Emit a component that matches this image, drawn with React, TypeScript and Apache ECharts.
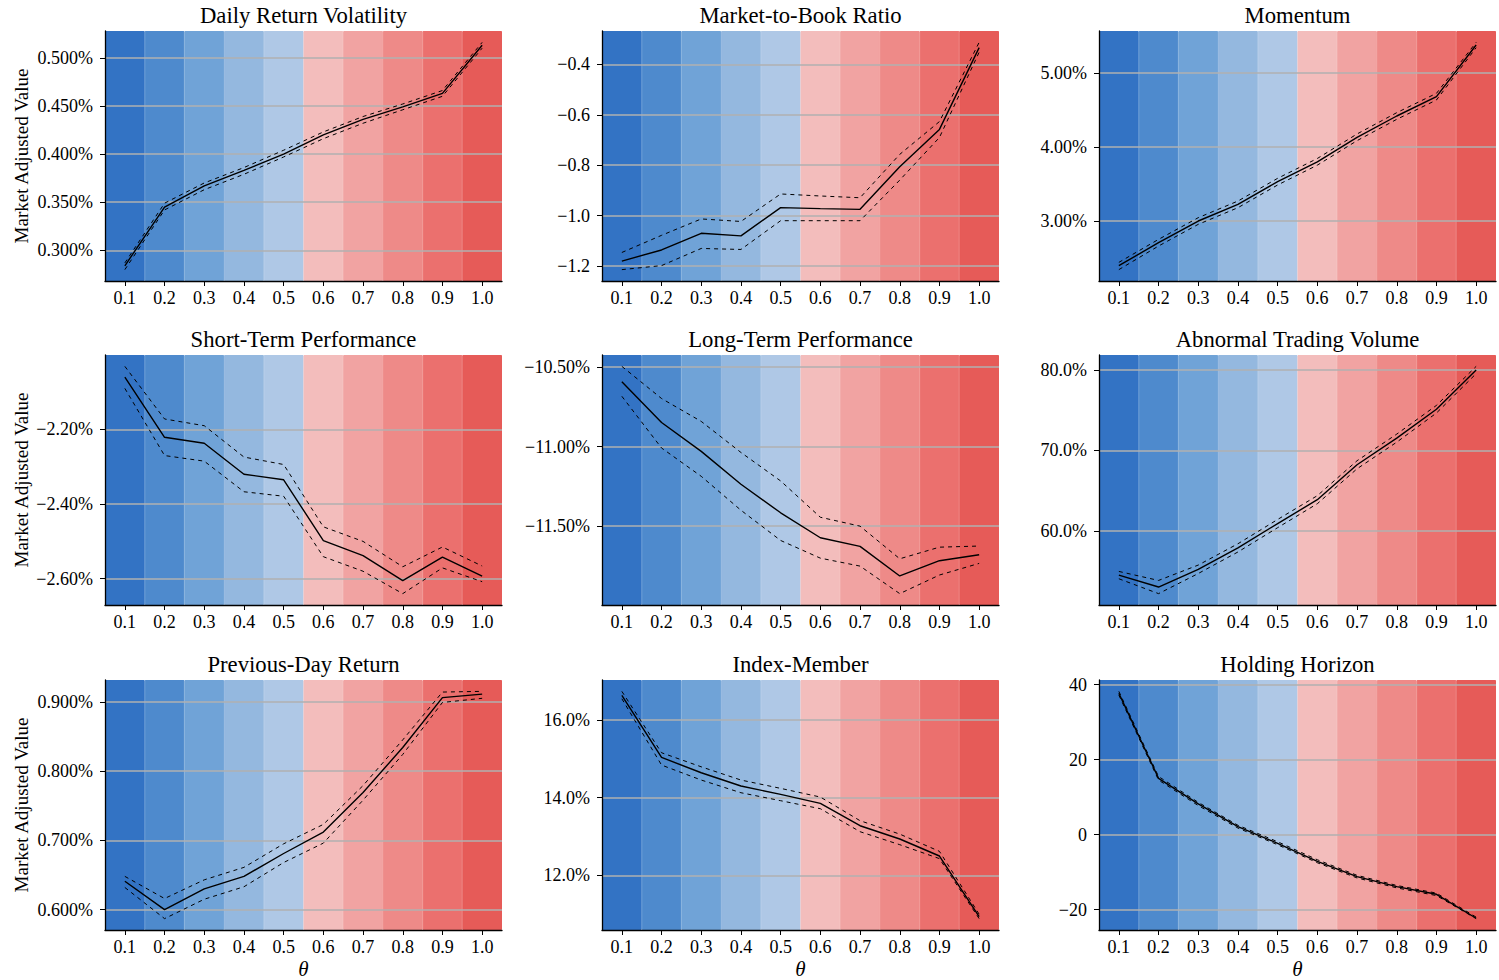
import React, { useEffect, useRef } from "react";
import * as echarts from "echarts";

// ---------- data ----------
const thetas = ["0.1", "0.2", "0.3", "0.4", "0.5", "0.6", "0.7", "0.8", "0.9", "1.0"];
const bandColors = ["#3373c4", "#4e8acd", "#70a3d7", "#94b8df", "#afc8e6", "#f3bdbc", "#f1a3a2", "#ee8a88", "#eb706e", "#e65b58"];

const titles = [
  "Daily Return Volatility", "Market-to-Book Ratio", "Momentum",
  "Short-Term Performance", "Long-Term Performance", "Abnormal Trading Volume",
  "Previous-Day Return", "Index-Member", "Holding Horizon",
];

const volMid = [0.284, 0.345, 0.367, 0.383, 0.400, 0.420, 0.436, 0.449, 0.463, 0.513];
const volUp = [0.287, 0.349, 0.370, 0.386, 0.404, 0.423, 0.439, 0.452, 0.466, 0.516];
const volLo = [0.280, 0.342, 0.363, 0.379, 0.397, 0.416, 0.432, 0.446, 0.460, 0.510];
const volTicks = [0.30, 0.35, 0.40, 0.45, 0.50];

const mtbMid = [-1.180, -1.136, -1.070, -1.080, -0.968, -0.972, -0.975, -0.806, -0.658, -0.334];
const mtbUp = [-1.146, -1.078, -1.013, -1.023, -0.914, -0.922, -0.929, -0.757, -0.627, -0.313];
const mtbLo = [-1.214, -1.198, -1.130, -1.134, -1.020, -1.020, -1.020, -0.859, -0.690, -0.352];
const mtbTicks = [-1.2, -1.0, -0.8, -0.6, -0.4];

const momMid = [2.396, 2.707, 3.000, 3.225, 3.532, 3.800, 4.131, 4.419, 4.680, 5.378];
const momUp = [2.441, 2.752, 3.045, 3.270, 3.577, 3.845, 4.176, 4.464, 4.725, 5.414];
const momLo = [2.343, 2.662, 2.955, 3.180, 3.487, 3.755, 4.086, 4.374, 4.635, 5.342];
const momTicks = [3, 4, 5];

const stpMid = [-2.060, -2.221, -2.237, -2.320, -2.335, -2.498, -2.538, -2.605, -2.542, -2.593];
const stpUp = [-2.031, -2.172, -2.190, -2.274, -2.294, -2.461, -2.500, -2.568, -2.515, -2.566];
const stpLo = [-2.090, -2.270, -2.285, -2.367, -2.379, -2.541, -2.580, -2.640, -2.571, -2.608];
const stpTicks = [-2.6, -2.4, -2.2];

const ltpMid = [-10.592, -10.849, -11.030, -11.237, -11.416, -11.573, -11.627, -11.813, -11.717, -11.680];
const ltpUp = [-10.496, -10.698, -10.842, -11.037, -11.216, -11.444, -11.500, -11.705, -11.632, -11.625];
const ltpLo = [-10.684, -11.009, -11.187, -11.400, -11.590, -11.701, -11.751, -11.924, -11.807, -11.734];
const ltpTicks = [-11.5, -11.0, -10.5];

const atvMid = [54.50, 53.02, 55.21, 57.89, 60.91, 63.88, 68.22, 71.53, 75.12, 80.00];
const atvUp = [54.96, 53.84, 55.75, 58.40, 61.42, 64.38, 68.72, 72.03, 75.60, 80.45];
const atvLo = [54.05, 52.20, 54.70, 57.38, 60.40, 63.38, 67.72, 71.03, 74.65, 79.55];
const atvTicks = [60, 70, 80];

const pdrMid = [0.641, 0.600, 0.630, 0.648, 0.681, 0.712, 0.769, 0.834, 0.906, 0.911];
const pdrUp = [0.648, 0.616, 0.643, 0.661, 0.695, 0.723, 0.779, 0.845, 0.914, 0.915];
const pdrLo = [0.632, 0.587, 0.615, 0.633, 0.668, 0.696, 0.758, 0.824, 0.899, 0.905];
const pdrTicks = [0.6, 0.7, 0.8, 0.9];

const idxMid = [16.625, 15.032, 14.638, 14.296, 14.081, 13.850, 13.276, 12.934, 12.497, 10.938];
const idxUp = [16.730, 15.152, 14.790, 14.450, 14.236, 14.013, 13.405, 13.060, 12.617, 11.000];
const idxLo = [16.540, 14.835, 14.450, 14.124, 13.919, 13.713, 13.122, 12.788, 12.430, 10.887];
const idxTicks = [12, 14, 16];

const hhMid = [37.69, 15.02, 8.18, 2.13, -2.31, -7.11, -11.20, -13.87, -15.91, -22.30];
const hhUp = [38.20, 15.50, 8.60, 2.50, -1.90, -6.70, -10.85, -13.55, -15.60, -22.00];
const hhLo = [37.20, 14.55, 7.75, 1.75, -2.70, -7.50, -11.55, -14.20, -16.25, -22.40];
const hhTicks = [-20, 0, 20, 40];

// tick label formats: [decimals, percent]
const tickDecimals = [3, 1, 2, 2, 2, 1, 3, 1, 0];
const tickPercent = [true, false, true, true, true, true, true, true, false];

const panels = [
  { mid: volMid, up: volUp, lo: volLo, ticks: volTicks },
  { mid: mtbMid, up: mtbUp, lo: mtbLo, ticks: mtbTicks },
  { mid: momMid, up: momUp, lo: momLo, ticks: momTicks },
  { mid: stpMid, up: stpUp, lo: stpLo, ticks: stpTicks },
  { mid: ltpMid, up: ltpUp, lo: ltpLo, ticks: ltpTicks },
  { mid: atvMid, up: atvUp, lo: atvLo, ticks: atvTicks },
  { mid: pdrMid, up: pdrUp, lo: pdrLo, ticks: pdrTicks },
  { mid: idxMid, up: idxUp, lo: idxLo, ticks: idxTicks },
  { mid: hhMid, up: hhUp, lo: hhLo, ticks: hhTicks },
];

// ---------- layout ----------
const FONT = '"Liberation Serif", "Times New Roman", Times, serif';
const COL_LEFT = [105, 602, 1099];
const ROW_TOP = [31, 355, 680];
const W = 397;
const H = 250;
const TITLE_Y = [15, 339, 664];

export default function App() {
  const ref = useRef<HTMLDivElement>(null);

  useEffect(() => {
    const chart = echarts.init(ref.current!, null, { renderer: "svg" });
    const grid: any[] = [];
    const xAxis: any[] = [];
    const yAxis: any[] = [];
    const series: any[] = [];
    const graphic: any[] = [];

    panels.forEach((p, i) => {
      const col = i % 3;
      const row = Math.floor(i / 3);
      grid.push({ left: COL_LEFT[col], top: ROW_TOP[row], width: W, height: H });

      const all = [...p.mid, ...p.up, ...p.lo];
      const lo = Math.min(...all);
      const hi = Math.max(...all);
      const pad = (hi - lo) * 0.05;
      const dec = tickDecimals[i];
      const pct = tickPercent[i];

      xAxis.push({
        type: "category",
        gridIndex: i,
        data: thetas,
        boundaryGap: true,
        axisLine: { show: true, onZero: false, lineStyle: { color: "#000", width: 1.3 } },
        axisTick: { show: true, alignWithLabel: true, length: 5, lineStyle: { color: "#000", width: 1 } },
        axisLabel: { color: "#000", fontFamily: FONT, fontSize: 18, margin: 8, interval: 0 },
        splitLine: { show: false },
        name: row === 2 ? "θ" : "",
        nameLocation: "middle",
        nameGap: 28,
        nameTextStyle: { color: "#000", fontFamily: FONT, fontSize: 21, fontStyle: "italic" },
        z: 3,
      });

      yAxis.push({
        type: "value",
        gridIndex: i,
        min: lo - pad,
        max: hi + pad,
        z: 3,
        axisLine: { show: true, onZero: false, lineStyle: { color: "#000", width: 1.3 } },
        axisTick: { show: true, length: 5, customValues: p.ticks, lineStyle: { color: "#000", width: 1 } },
        axisLabel: {
          customValues: p.ticks,
          color: "#000",
          fontFamily: FONT,
          fontSize: 18,
          margin: 12,
          formatter: (v: number) => (v.toFixed(dec) + (pct ? "%" : "")).replace("-", "\u2212"),
        },
        splitLine: { show: true, lineStyle: { color: "#b0b0b0", width: 1.5 } },
        name: col === 0 ? "Market Adjusted Value" : "",
        nameLocation: "middle",
        nameRotate: 90,
        nameGap: 74,
        nameTextStyle: { color: "#000", fontFamily: FONT, fontSize: 19 },
      });

      series.push(
        {
          type: "line",
          xAxisIndex: i,
          yAxisIndex: i,
          data: p.up,
          symbol: "none",
          silent: true,
          z: 5,
          lineStyle: { color: "#000", width: 1, type: [4, 4] },
        },
        {
          type: "line",
          xAxisIndex: i,
          yAxisIndex: i,
          data: p.lo,
          symbol: "none",
          silent: true,
          z: 5,
          lineStyle: { color: "#000", width: 1, type: [4, 4] },
        },
        {
          type: "line",
          xAxisIndex: i,
          yAxisIndex: i,
          data: p.mid,
          symbol: "none",
          silent: true,
          z: 6,
          lineStyle: { color: "#000", width: 1.4 },
        }
      );

      graphic.push({
        type: "text",
        x: COL_LEFT[col] + W / 2,
        y: TITLE_Y[row],
        style: {
          text: titles[i],
          fill: "#000",
          fontFamily: FONT,
          fontSize: 22.7,
          align: "center",
          verticalAlign: "middle",
          textAlign: "center",
          textVerticalAlign: "middle",
        },
      });
    });

    // hidden background axes + colored bands
    panels.forEach((_, i) => {
      yAxis.push({ type: "value", gridIndex: i, min: 0, max: 1, show: false, splitLine: { show: false } });
      series.push({
        type: "bar",
        xAxisIndex: i,
        yAxisIndex: panels.length + i,
        data: bandColors.map((c) => ({ value: 1, itemStyle: { color: c, borderColor: c, borderWidth: 1 } })),
        barWidth: "100%",
        barGap: "0%",
        silent: true,
        z: 1,
      });
    });

    chart.setOption({
      animation: false,
      backgroundColor: "#ffffff",
      grid,
      xAxis,
      yAxis,
      series,
      graphic,
    });

    return () => chart.dispose();
  }, []);

  return (
    <div
      ref={ref}
      style={{ position: "fixed", left: 0, top: 0, width: 1499, height: 980, background: "#fff" }}
    />
  );
}
